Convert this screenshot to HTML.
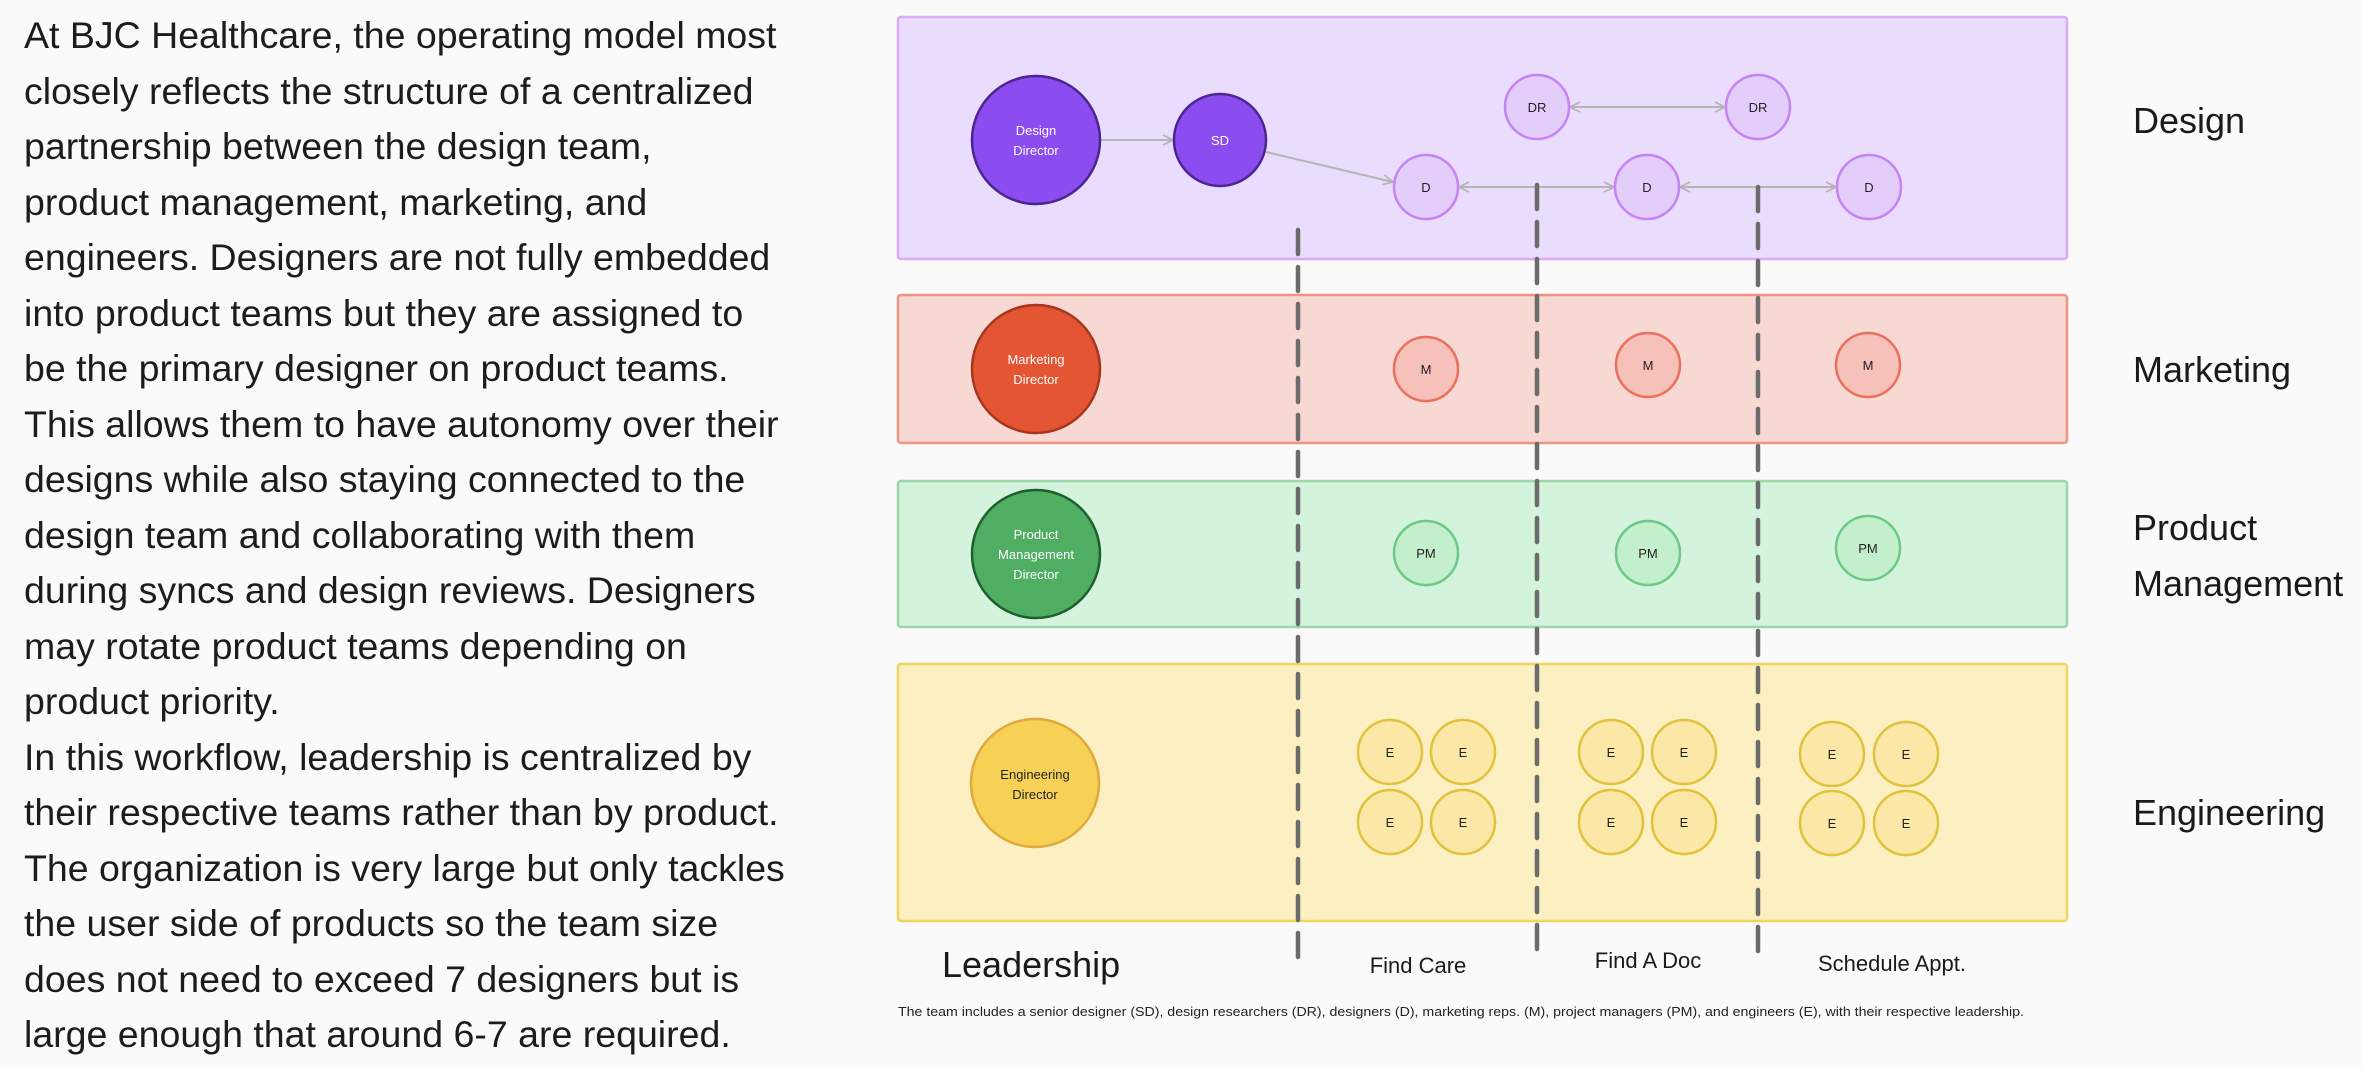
<!DOCTYPE html>
<html><head><meta charset="utf-8"><style>
html,body{margin:0;padding:0;background:#fafafa;}
body{width:2362px;height:1068px;overflow:hidden;position:relative;font-family:"Liberation Sans",sans-serif;color:#1a1a1a;}
.para{position:absolute;left:24px;top:8px;font-size:37.5px;line-height:55.5px;white-space:nowrap;color:#1c1c1c;}
svg{position:absolute;left:0;top:0;}
</style></head><body>
<div class="para">At BJC Healthcare, the operating model most<br>closely reflects the structure of a centralized<br>partnership between the design team,<br>product management, marketing, and<br>engineers. Designers are not fully embedded<br>into product teams but they are assigned to<br>be the primary designer on product teams.<br>This allows them to have autonomy over their<br>designs while also staying connected to the<br>design team and collaborating with them<br>during syncs and design reviews. Designers<br>may rotate product teams depending on<br>product priority.<br>In this workflow, leadership is centralized by<br>their respective teams rather than by product.<br>The organization is very large but only tackles<br>the user side of products so the team size<br>does not need to exceed 7 designers but is<br>large enough that around 6-7 are required.</div>
<svg width="2362" height="1068" viewBox="0 0 2362 1068" font-family="Liberation Sans, sans-serif">
<defs>
<marker id="a" viewBox="0 0 12 12" refX="11" refY="6" markerWidth="12" markerHeight="12" markerUnits="userSpaceOnUse" orient="auto-start-reverse"><path d="M1 1 L11 6 L1 11" fill="none" stroke="#b5b5b5" stroke-width="1.8"/></marker>
</defs>
<rect x="898" y="17" width="1169" height="242" rx="3" fill="#e9dcfd" stroke="#dba9f8" stroke-width="2.5"/>
<rect x="898" y="295" width="1169" height="148" rx="3" fill="#f8d8d3" stroke="#ef9385" stroke-width="2.5"/>
<rect x="898" y="481" width="1169" height="146" rx="3" fill="#d3f3dc" stroke="#9dd6ab" stroke-width="2.5"/>
<rect x="898" y="664" width="1169" height="257" rx="3" fill="#fcf0c2" stroke="#efd45e" stroke-width="2.5"/>
<g stroke="#b5b5b5" stroke-width="2" fill="none">
<line x1="1101" y1="140" x2="1173" y2="140" marker-end="url(#a)"/>
<line x1="1266" y1="152" x2="1393" y2="182" marker-end="url(#a)"/>
<line x1="1570" y1="107" x2="1725" y2="107" marker-start="url(#a)" marker-end="url(#a)"/>
<line x1="1459" y1="187" x2="1614" y2="187" marker-start="url(#a)" marker-end="url(#a)"/>
<line x1="1680" y1="187" x2="1836" y2="187" marker-start="url(#a)" marker-end="url(#a)"/>
</g>
<g stroke="#6b6b6b" stroke-width="4.5" stroke-dasharray="24 13" stroke-linecap="round">
<line x1="1298" y1="230" x2="1298" y2="957"/>
<line x1="1537" y1="185" x2="1537" y2="955"/>
<line x1="1758" y1="187" x2="1758" y2="955"/>
</g>
<g stroke-width="2.5">
<circle cx="1036" cy="140" r="64" fill="#8b4cf0" stroke="#4b2590"/>
<circle cx="1220" cy="140" r="46" fill="#8b4cf0" stroke="#4b2590"/>
<circle cx="1537" cy="107" r="32" fill="#e2cdfb" stroke="#c782f3"/>
<circle cx="1758" cy="107" r="32" fill="#e2cdfb" stroke="#c782f3"/>
<circle cx="1426" cy="187" r="32" fill="#e2cdfb" stroke="#c782f3"/>
<circle cx="1647" cy="187" r="32" fill="#e2cdfb" stroke="#c782f3"/>
<circle cx="1869" cy="187" r="32" fill="#e2cdfb" stroke="#c782f3"/>
<circle cx="1036" cy="369" r="64" fill="#e35533" stroke="#a73520"/>
<circle cx="1426" cy="369" r="32" fill="#f5c1b9" stroke="#ec6f5e"/>
<circle cx="1648" cy="365" r="32" fill="#f5c1b9" stroke="#ec6f5e"/>
<circle cx="1868" cy="365" r="32" fill="#f5c1b9" stroke="#ec6f5e"/>
<circle cx="1036" cy="554" r="64" fill="#4fae62" stroke="#1f5e2e"/>
<circle cx="1426" cy="553" r="32" fill="#c3efcd" stroke="#6cc986"/>
<circle cx="1648" cy="553" r="32" fill="#c3efcd" stroke="#6cc986"/>
<circle cx="1868" cy="548" r="32" fill="#c3efcd" stroke="#6cc986"/>
<circle cx="1035" cy="783" r="64" fill="#f7d155" stroke="#e0a93c"/>
<g fill="#fbe7a6" stroke="#e0c23c">
<circle cx="1390" cy="752" r="32"/><circle cx="1463" cy="752" r="32"/>
<circle cx="1390" cy="822" r="32"/><circle cx="1463" cy="822" r="32"/>
<circle cx="1611" cy="752" r="32"/><circle cx="1684" cy="752" r="32"/>
<circle cx="1611" cy="822" r="32"/><circle cx="1684" cy="822" r="32"/>
<circle cx="1832" cy="754" r="32"/><circle cx="1906" cy="754" r="32"/>
<circle cx="1832" cy="823" r="32"/><circle cx="1906" cy="823" r="32"/>
</g>
</g>
<g font-size="13" text-anchor="middle" fill="#222">
<text x="1036" y="135" fill="#fff">Design</text><text x="1036" y="155" fill="#fff">Director</text>
<text x="1220" y="145" fill="#fff">SD</text>
<text x="1537" y="112">DR</text><text x="1758" y="112">DR</text>
<text x="1426" y="192">D</text><text x="1647" y="192">D</text><text x="1869" y="192">D</text>
<text x="1036" y="364" fill="#fff">Marketing</text><text x="1036" y="384" fill="#fff">Director</text>
<text x="1426" y="374">M</text><text x="1648" y="370">M</text><text x="1868" y="370">M</text>
<text x="1036" y="539" fill="#fff">Product</text><text x="1036" y="559" fill="#fff">Management</text><text x="1036" y="579" fill="#fff">Director</text>
<text x="1426" y="558">PM</text><text x="1648" y="558">PM</text><text x="1868" y="553">PM</text>
<text x="1035" y="779">Engineering</text><text x="1035" y="799">Director</text>
<text x="1390" y="757">E</text><text x="1463" y="757">E</text><text x="1390" y="827">E</text><text x="1463" y="827">E</text>
<text x="1611" y="757">E</text><text x="1684" y="757">E</text><text x="1611" y="827">E</text><text x="1684" y="827">E</text>
<text x="1832" y="759">E</text><text x="1906" y="759">E</text><text x="1832" y="828">E</text><text x="1906" y="828">E</text>
</g>
<g font-size="22" text-anchor="middle" fill="#1a1a1a">
<text x="1418" y="973">Find Care</text>
<text x="1648" y="968">Find A Doc</text>
<text x="1892" y="971">Schedule Appt.</text>
</g>
<text x="942" y="977" font-size="36" fill="#1a1a1a">Leadership</text>
<text x="898" y="1016" font-size="12.5" fill="#222" textLength="1126" lengthAdjust="spacingAndGlyphs">The team includes a senior designer (SD), design researchers (DR), designers (D), marketing reps. (M), project managers (PM), and engineers (E), with their respective leadership.</text>
<g font-size="36" fill="#1a1a1a">
<text x="2133" y="133">Design</text>
<text x="2133" y="382">Marketing</text>
<text x="2133" y="540">Product</text>
<text x="2133" y="596">Management</text>
<text x="2133" y="825">Engineering</text>
</g>
</svg>
</body></html>
